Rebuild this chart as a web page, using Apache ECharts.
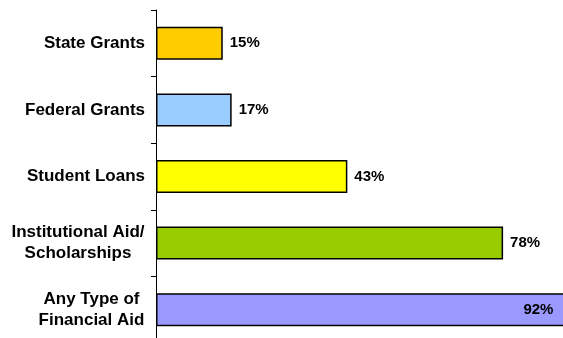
<!DOCTYPE html>
<html>
<head>
<meta charset="utf-8">
<script src="https://cdn.jsdelivr.net/npm/echarts@6/dist/echarts.min.js"></script>
<style>
  html, body { margin: 0; padding: 0; background: #fff; }
  #chart { width: 563px; height: 338px; }
</style>
</head>
<body>
<div id="chart"></div>
<script>
// categories top to bottom
var categories = ['State Grants', 'Federal Grants', 'Student Loans', 'Institutional Aid/\nScholarships', 'Any Type of\nFinancial Aid'];
var values = [15, 17, 43, 78, 92];
var barColors = ['#ffcc00', '#99ccff', '#ffff00', '#99cc00', '#9999ff'];

var myChart = echarts.init(document.getElementById('chart'));

var labelFont = 'Arial, "Liberation Sans", sans-serif';

var seriesData = values.map(function (v, i) {
  var item = {
    value: v,
    itemStyle: { color: barColors[i] }
  };
  // last bar runs off the picture, label sits inside
  if (i === values.length - 1) {
    item.label = { position: 'insideRight', distance: 12 };
  }
  return item;
});

function centredLine(w) {
  return {
    width: w,
    align: 'center',
    color: '#000',
    fontFamily: labelFont,
    fontWeight: 'bold',
    fontSize: 17,
    lineHeight: 21
  };
}

myChart.setOption({
  animation: false,
  grid: {
    left: 156,
    top: 10,
    right: -38,
    bottom: -5,
    outerBoundsMode: 'none'
  },
  xAxis: {
    type: 'value',
    min: 0,
    max: 100,
    show: false
  },
  yAxis: {
    type: 'category',
    inverse: true,
    data: categories,
    axisLine: {
      show: true,
      lineStyle: { color: '#000', width: 1 }
    },
    axisTick: {
      show: true,
      length: 5,
      lineStyle: { color: '#000' }
    },
    axisLabel: {
      margin: 11,
      color: '#000',
      fontFamily: labelFont,
      fontWeight: 'bold',
      fontSize: 17,
      lineHeight: 21,
      formatter: function (val, idx) {
        if (val.indexOf('\n') < 0) return val;
        // two-line labels: lines centred on each other
        var key = idx === 3 ? 'a' : 'b';
        return val.split('\n').map(function (s) { return '{' + key + '|' + s + '}'; }).join('\n');
      },
      rich: {
        a: centredLine(134),
        b: centredLine(107)
      }
    }
  },
  series: [
    {
      type: 'bar',
      data: seriesData,
      barWidth: 33,
      itemStyle: {
        borderColor: '#000',
        borderWidth: 1.5
      },
      label: {
        show: true,
        position: 'right',
        distance: 7,
        color: '#000',
        fontFamily: labelFont,
        fontWeight: 'bold',
        fontSize: 15,
        formatter: '{c}%'
      }
    }
  ]
});
</script>
</body>
</html>
